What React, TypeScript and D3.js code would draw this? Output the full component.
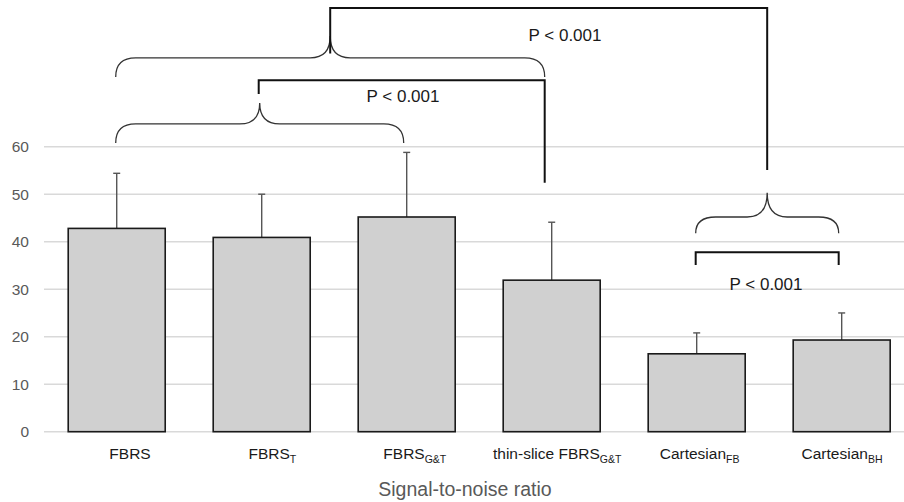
import React, { useEffect, useRef } from 'react';
import * as d3 from 'd3';

const categories = ['FBRS', 'FBRS_T', 'FBRS_GT', 'thin_GT', 'Cart_FB', 'Cart_BH'];
const labelMain = ['FBRS', 'FBRS', 'FBRS', 'thin-slice FBRS', 'Cartesian', 'Cartesian'];
const labelSub = ['', 'T', 'G&T', 'G&T', 'FB', 'BH'];
const means = [42.8, 40.9, 45.2, 31.9, 16.4, 19.3];
const errors = [11.6, 9.1, 13.6, 12.2, 4.4, 5.7];
const yTicks = [0, 10, 20, 30, 40, 50, 60];

// comparison braces: from category, to category, levels (end, arm, tip)
const braces = [
  { from: 'FBRS', to: 'thin_GT', end: 74.7, arm: 78.7, tip: 83.3 },
  { from: 'FBRS', to: 'FBRS_GT', end: 60.8, arm: 64.8, tip: 69.2 },
  { from: 'Cart_FB', to: 'Cart_BH', end: 41.8, arm: 45.2, tip: 50.3 },
];

const FONT = '"Liberation Sans", Arial, sans-serif';

export default function App() {
  const ref = useRef<SVGSVGElement>(null);

  useEffect(() => {
    document.body.style.margin = '0';
    const svg = d3.select(ref.current);
    svg.selectAll('*').remove();

    const x = d3.scaleBand<string>()
      .domain(categories)
      .range([44, 914.4])
      .paddingInner(0.331)
      .paddingOuter(0.167);
    // category labels sit a little off the bar centres in the original
    const xl = d3.scalePoint<string>().domain(categories).range([130, 842]);
    const y = d3.scaleLinear().domain([0, 60]).range([431.7, 146.7]);
    const cx = (c: string) => (x(c) as number) + x.bandwidth() / 2;

    // grid
    svg.append('g')
      .selectAll('line')
      .data(yTicks)
      .enter().append('line')
      .attr('x1', 44).attr('x2', 904)
      .attr('y1', (d) => y(d)).attr('y2', (d) => y(d))
      .attr('stroke', '#d9d9d9')
      .attr('stroke-width', 1.5);

    svg.append('g')
      .selectAll('text')
      .data(yTicks)
      .enter().append('text')
      .attr('x', 29)
      .attr('y', (d) => y(d) + 5.5)
      .attr('text-anchor', 'end')
      .style('font-family', FONT)
      .style('font-size', '15.5px')
      .style('fill', '#595959')
      .text((d) => d);

    // error bars
    const eb = svg.append('g').selectAll('g')
      .data(categories)
      .enter().append('g');
    eb.append('line')
      .attr('x1', (d) => cx(d)).attr('x2', (d) => cx(d))
      .attr('y1', (d, i) => y(means[i])).attr('y2', (d, i) => y(means[i] + errors[i]))
      .attr('stroke', '#555').attr('stroke-width', 1.4);
    eb.append('line')
      .attr('x1', (d) => cx(d) - 3.5).attr('x2', (d) => cx(d) + 3.5)
      .attr('y1', (d, i) => y(means[i] + errors[i])).attr('y2', (d, i) => y(means[i] + errors[i]))
      .attr('stroke', '#555').attr('stroke-width', 1.4);

    // bars
    svg.append('g')
      .selectAll('rect')
      .data(categories)
      .enter().append('rect')
      .attr('x', (d) => x(d) as number)
      .attr('width', x.bandwidth())
      .attr('y', (d, i) => y(means[i]))
      .attr('height', (d, i) => y(0) - y(means[i]))
      .attr('fill', '#d0d0d0')
      .attr('stroke', '#1a1a1a')
      .attr('stroke-width', 1.6);

    // category labels
    const lbl = svg.append('g')
      .selectAll('text')
      .data(categories)
      .enter().append('text')
      .attr('x', (d) => xl(d) as number)
      .attr('y', 459)
      .attr('text-anchor', 'middle')
      .style('font-family', FONT)
      .style('font-size', '15.5px')
      .style('fill', '#1a1a1a');
    lbl.append('tspan').text((d, i) => labelMain[i]);
    lbl.append('tspan')
      .attr('dy', 4)
      .style('font-size', '10.5px')
      .text((d, i) => labelSub[i]);

    svg.append('text')
      .attr('x', 465)
      .attr('y', 496)
      .attr('text-anchor', 'middle')
      .style('font-family', FONT)
      .style('font-size', '19.5px')
      .style('fill', '#595959')
      .text('Signal-to-noise ratio');

    // curly braces
    const r = 20;
    const bracePath = (b: typeof braces[0]) => {
      const x0 = cx(b.from) - 1;
      const x1 = b.to === 'thin_GT' ? cx(b.to) - 7 : cx(b.to) - 3;
      const t = (x0 + x1) / 2;
      const ye = y(b.end), ya = y(b.arm), yt = y(b.tip);
      return `M${x0},${ye} Q${x0},${ya} ${x0 + r},${ya} L${t - r},${ya} Q${t},${ya} ${t},${yt}`
        + ` Q${t},${ya} ${t + r},${ya} L${x1 - r},${ya} Q${x1},${ya} ${x1},${ye}`;
    };
    svg.append('g')
      .selectAll('path')
      .data(braces)
      .enter().append('path')
      .attr('d', bracePath)
      .attr('fill', 'none')
      .attr('stroke', '#333')
      .attr('stroke-width', 1.3);

    // significance brackets
    const tip1 = (cx('FBRS') - 1 + cx('thin_GT') - 7) / 2;
    const tip3 = (cx('Cart_FB') + cx('Cart_BH') - 4) / 2;
    const xFBRST = cx('FBRS_T') - 3;
    const xThin = cx('thin_GT') - 7;
    const brackets = [
      `M${tip1},${y(79.6)} L${tip1},${y(89.2)} L${tip3},${y(89.2)} L${tip3},${y(55.1)}`,
      `M${xFBRST},${y(71.1)} L${xFBRST},${y(74.0)} L${xThin},${y(74.0)} L${xThin},${y(52.4)}`,
      `M${cx('Cart_FB') - 1},${y(35.1)} L${cx('Cart_FB') - 1},${y(37.8)} L${cx('Cart_BH') - 3},${y(37.8)} L${cx('Cart_BH') - 3},${y(35.1)}`,
    ];
    svg.append('g')
      .selectAll('path')
      .data(brackets)
      .enter().append('path')
      .attr('d', (d) => d)
      .attr('fill', 'none')
      .attr('stroke', '#111')
      .attr('stroke-width', 2);

    const pLabels = [
      { x: 565, y: 41 },
      { x: 403, y: 102 },
      { x: 766, y: 290 },
    ];
    svg.append('g')
      .selectAll('text')
      .data(pLabels)
      .enter().append('text')
      .attr('x', (d) => d.x)
      .attr('y', (d) => d.y)
      .attr('text-anchor', 'middle')
      .style('font-family', FONT)
      .style('font-size', '17px')
      .style('fill', '#1a1a1a')
      .text('P < 0.001');
  }, []);

  return (
    <svg ref={ref} width={904} height={502} style={{ display: 'block', background: '#fff' }} />
  );
}
